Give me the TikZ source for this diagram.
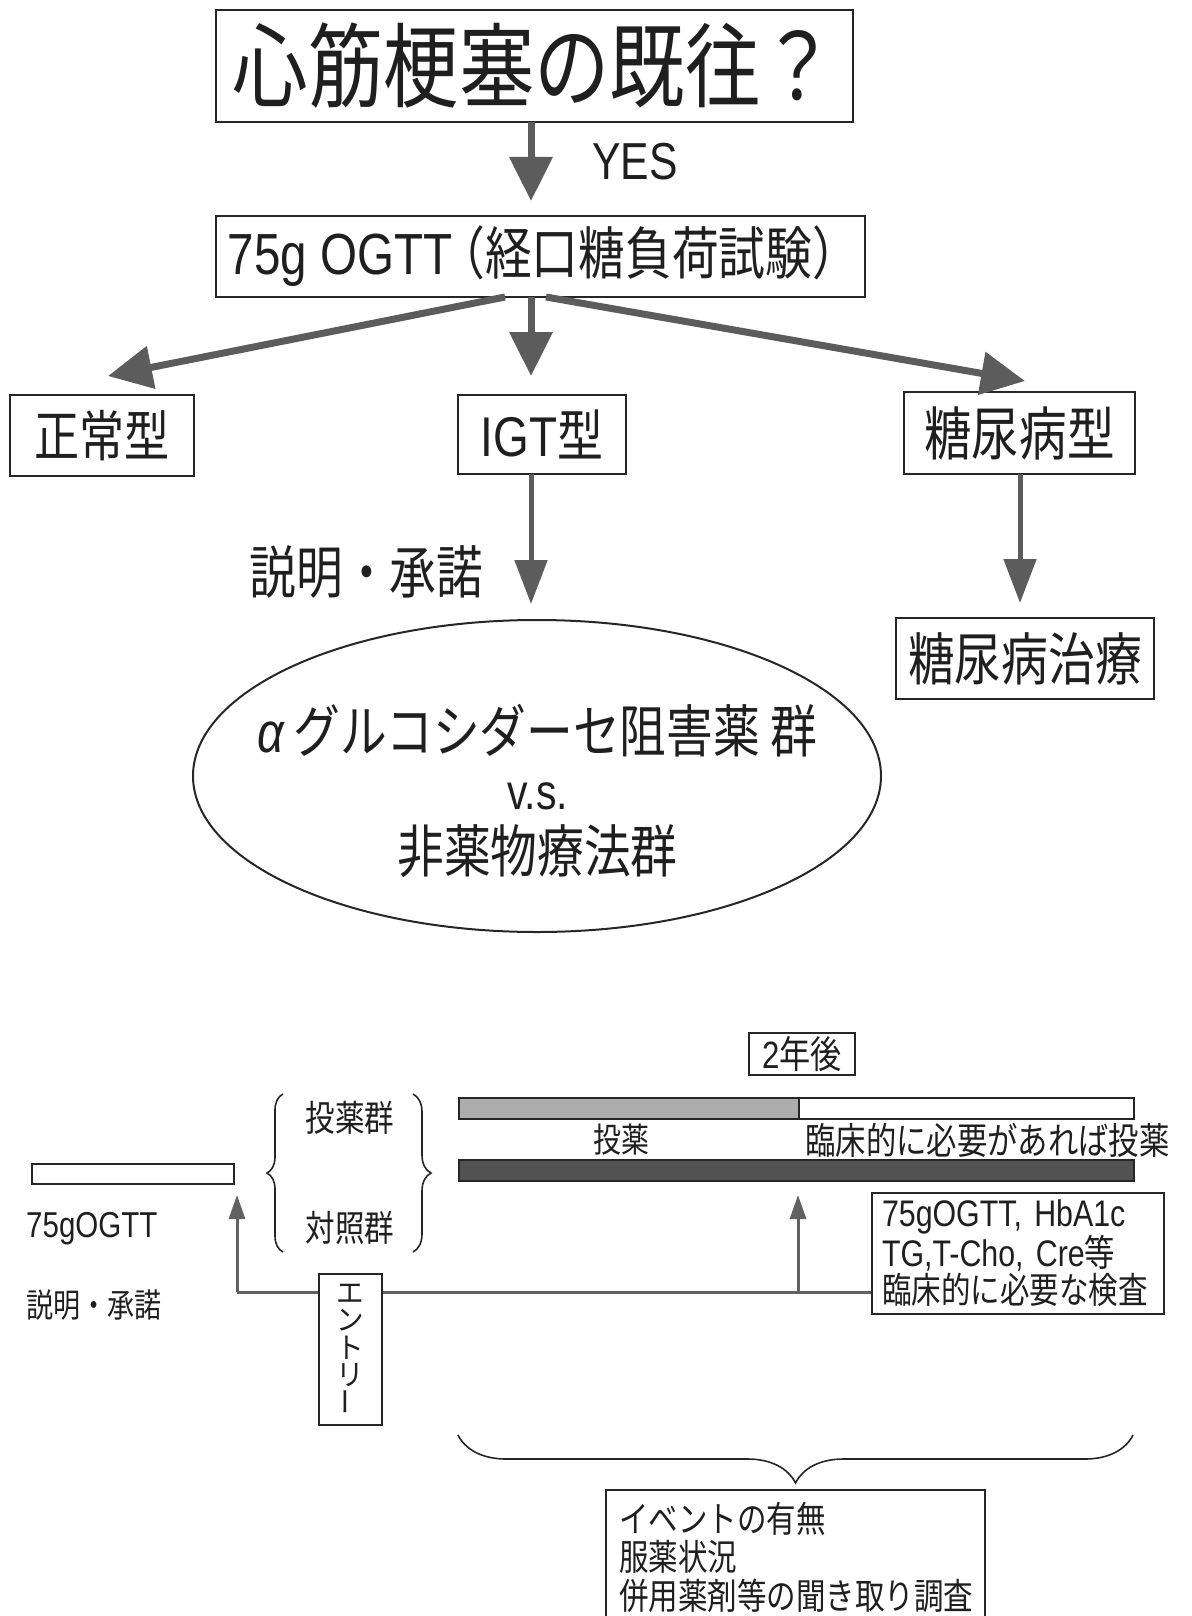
\documentclass[tikz,border=0pt]{standalone}
\usepackage{fontspec}
\usepackage{graphicx}
\setmainfont{Liberation Sans}[FakeStretch=0.82]
\newfontfamily\jp{Noto Sans CJK JP}[FakeStretch=0.82]
\newfontfamily\jpv{Noto Sans CJK JP}[FakeStretch=0.95]
\usetikzlibrary{arrows.meta,shapes.geometric,decorations.pathreplacing,calc}
\newcommand\fsz[2]{\fontsize{#1}{#2}\selectfont}
\begin{document}
\begin{tikzpicture}[x=1pt,y=-1pt,
  box/.style={draw=black!85,line width=2pt,inner sep=0pt,text=black!88,fill=white},
  lab/.style={inner sep=0pt,text=black!88},
  bigarr/.style={draw=black!64,line width=7pt,-{Triangle[width=42pt,length=44pt]}},
  medarr/.style={draw=black!64,line width=5pt,-{Triangle[width=32pt,length=44pt]}},
  smallarr/.style={draw=black!62,line width=3pt,-{Triangle[width=16pt,length=24pt]}},
  tline/.style={draw=black!62,line width=3pt},
  bracestyle/.style={draw=black!85,line width=1.6pt,decorate},
  bar/.style={draw=black!85,line width=1.5pt,inner sep=0pt,anchor=north west,minimum height=21pt}
]
\useasboundingbox (0,0) rectangle (1191,1616);

% ---------- upper flow chart ----------
\node[box,minimum width=637pt,minimum height=112pt] (top) at (534.5,66) {\jp\fsz{92}{92}心筋梗塞の既往？};
\node[lab,anchor=west] (yes) at (592,162) {\fsz{52}{52}YES};
\node[box,minimum width=649pt,minimum height=81pt] (ogtt) at (540.5,256.5)
  {\fsz{58}{58}75g OGTT{\jp\fsz{57}{57}\kern-14pt（経口糖負荷試験）\kern-6pt}};
\node[box,minimum width=184pt,minimum height=81pt] (norm) at (102,435.5) {\jp\fsz{55}{55}正常型};
\node[box,minimum width=168pt,minimum height=79pt] (igt) at (542,434.5) {\fsz{56}{56}IGT{\jp 型}};
\node[box,minimum width=231pt,minimum height=82pt] (dm) at (1019.5,433) {\jp\fsz{58}{58}糖尿病型};
\node[box,minimum width=258pt,minimum height=81pt] (dmt) at (1025,658.5) {\jp\fsz{57}{57}糖尿病治療};
\node[lab] (consent) at (366.5,572) {\jp\fsz{57}{57}説明・承諾};
\node[draw=black!85,line width=2pt,ellipse,minimum width=688pt,minimum height=312pt,inner sep=0pt] (ell) at (537,776) {};
\node[lab] (ell1) at (537.5,731) {\fsz{57}{57}{\itshape α}\,{\jp グルコシダーセ阻害薬 群}};
\node[lab] (ell2) at (537.5,796) {\fsz{50}{50}v.s.};
\node[lab] (ell3) at (537.5,851) {\jp\fsz{57}{57}非薬物療法群};

\coordinate (a1s) at (531,122);  \coordinate (a1e) at (531,201);
\coordinate (aLs) at (505,297);  \coordinate (aLe) at (108,376);
\coordinate (aCs) at (531,297);  \coordinate (aCe) at (531,376);
\coordinate (aRs) at (546,297);  \coordinate (aRe) at (1025,381);
\coordinate (aIs) at (531,474);  \coordinate (aIe) at (531,604);
\coordinate (aDs) at (1020,474); \coordinate (aDe) at (1020,603);

\draw[bigarr] (a1s) -- (a1e);
\draw[bigarr] (aLs) -- (aLe);
\draw[bigarr] (aCs) -- (aCe);
\draw[bigarr] (aRs) -- (aRe);
\draw[medarr] (aIs) -- (aIe);
\draw[medarr] (aDs) -- (aDe);

% ---------- lower timeline ----------
\node[box,minimum width=106pt,minimum height=42pt] (yr2) at (802,1054) {\fsz{38}{38}2{\jp 年後}};
\node[bar,fill=black!32,minimum width=340pt] (drugbar) at (458,1097) {};
\node[bar,fill=white,minimum width=335pt] (optbar) at (798,1097) {};
\node[bar,fill=black!68,minimum width=675pt] (ctrlbar) at (458,1159) {};
\node[bar,fill=white,minimum width=202pt,minimum height=20pt] (prebar) at (31,1163) {};

\node[lab] (drug) at (621,1140) {\jp\fsz{34}{34}投薬};
\node[lab] (opt) at (987.5,1140) {\jp\fsz{37}{37}臨床的に必要があれば投薬};
\node[lab] (g1) at (350,1118) {\jp\fsz{36}{36}投薬群};
\node[lab] (g2) at (350,1228) {\jp\fsz{36}{36}対照群};
\node[lab,anchor=west] (ogl) at (26,1229) {\fsz{36}{36}75gOGTT};
\node[lab,anchor=west] (setl) at (26,1305) {\jp\fsz{33}{33}説明・承諾};

\draw[bracestyle,decoration={brace,amplitude=16pt}] (283,1252) -- (283,1094);
\draw[bracestyle,decoration={brace,amplitude=18pt}] (413,1094) -- (413,1252);

\node[box,minimum width=292pt,minimum height=121pt,align=left,text width=272pt,font={\fsz{37}{37}}] (exam) at (1018,1253.5)
  {75gOGTT, HbA1c\\TG,T-Cho, Cre{\jp 等}\\{\jp\fsz{36}{37}臨床的に必要な検査}};

\coordinate (tl) at (237,1292);
\coordinate (tlm) at (798,1292);
\coordinate (up1) at (237,1195);
\coordinate (up2) at (798,1195);
\draw[tline] (tl) -- (tl -| exam.west);
\draw[smallarr] (tl) -- (up1);
\draw[smallarr] (tlm) -- (up2);

\node[box,minimum width=63pt,minimum height=151pt,align=center,font={\jpv\fsz{29}{27.5}}] (entry) at (350,1349.5)
  {エ\\ン\\ト\\リ\\\rotatebox{90}{ー}};

\draw[bracestyle,decoration={brace,amplitude=48pt,aspect=0.5}] (1133,1435) -- (458,1435);

\node[box,anchor=north west,minimum width=379pt,minimum height=160pt] (evbox) at (605,1489) {};
\node[lab,anchor=north west,align=left,font={\jp\fsz{36}{38.5}}] (evt) at (619,1502)
  {イベントの有無\\服薬状況\\併用薬剤等の聞き取り調査};
\end{tikzpicture}
\end{document}
